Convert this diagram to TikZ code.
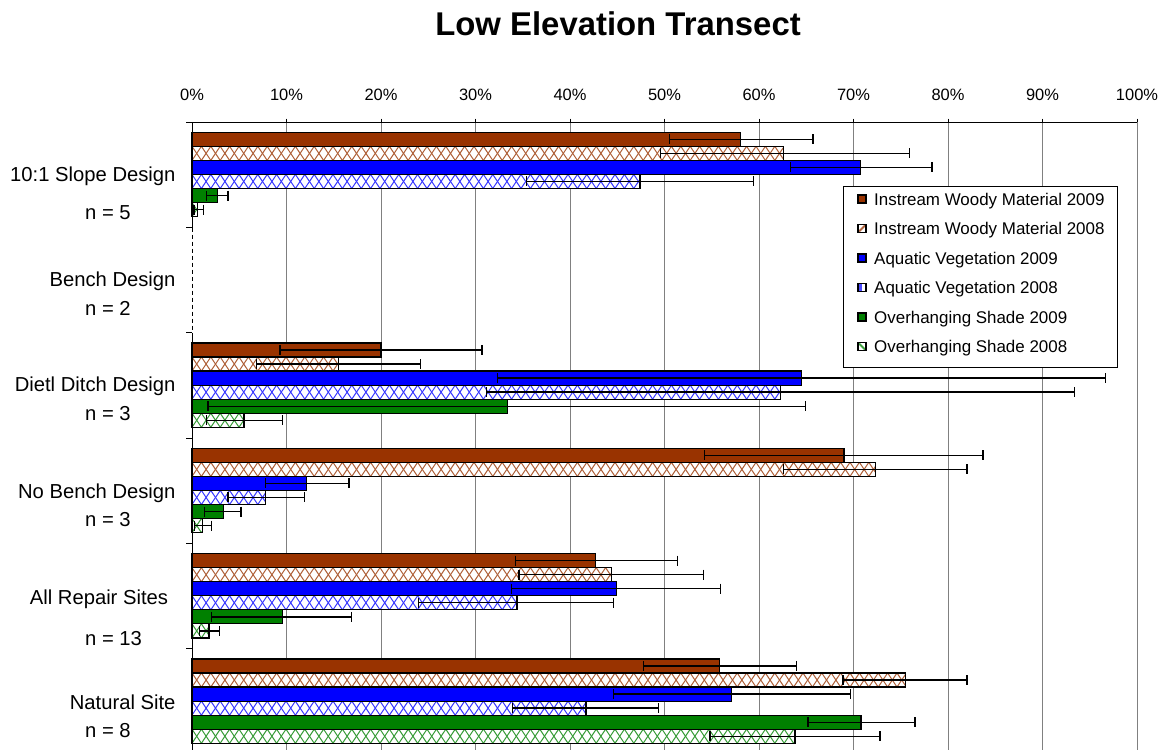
\documentclass[tikz,border=0pt]{standalone}
\usepackage{fontspec}
\setmainfont{Liberation Sans}
\definecolor{iwm}{HTML}{993300}
\definecolor{av}{HTML}{0000FF}
\definecolor{os}{HTML}{008000}
\definecolor{gridgray}{HTML}{808080}
\tikzset{
  barline/.style={draw=black, line width=1.2bp},
  errline/.style={draw=black, line width=1.3bp},
  hatchln/.style={draw=#1!78!white, line width=1bp},
  gridln/.style={draw=gridgray, line width=1bp},
  axisln/.style={draw=black, line width=1bp},
  ticklbl/.style={font=\fontsize{16.5}{18}\selectfont, inner sep=0pt},
  catlbl/.style={font=\fontsize{20.3}{22}\selectfont, inner sep=0pt},
  legtext/.style={font=\fontsize{17}{19}\selectfont, inner sep=0pt},
}
% #1 group, #2 row, #3 value, #4 low, #5 high, #6 colour, #7 hatched (0/1)
\newcommand{\drawbar}[7]{%
  \pgfmathsetmacro{\yt}{132.3+105.33*#1+14.05*#2}%
  \pgfmathsetmacro{\yb}{\yt+14.05}%
  \pgfmathsetmacro{\yc}{\yt+7.025}%
  \pgfmathsetmacro{\xv}{192+9.45*#3}%
  \pgfmathsetmacro{\xl}{192+9.45*#4}%
  \pgfmathsetmacro{\xh}{192+9.45*#5}%
  \ifnum#7=0
    \fill[#6] (192,\yt) rectangle (\xv,\yb);
  \else
    \fill[white] (192,\yt) rectangle (\xv,\yb);
    \begin{scope}
      \clip (192,\yt) rectangle (\xv,\yb);
      \pgfmathtruncatemacro{\nk}{ceil(#3*9.45/9.4)+1}%
      \foreach \k in {-1,...,\nk} {
        \draw[hatchln=#6] ({192+9.4*\k},\yt) -- ({192+9.4*(\k+1)},\yb);
        \draw[hatchln=#6] ({192+9.4*(\k+1)},\yt) -- ({192+9.4*\k},\yb);
      }
    \end{scope}
  \fi
  \draw[barline] (192,\yt) rectangle (\xv,\yb);
  \draw[errline] (\xl,\yc) -- (\xh,\yc);
  \draw[errline] (\xl,\yc-5) -- (\xl,\yc+5);
  \draw[errline] (\xh,\yc-5) -- (\xh,\yc+5);
}
\begin{document}
\begin{tikzpicture}[x=1bp,y=-1bp]
\useasboundingbox (0,0) rectangle (1163,750);
\fill[white] (0,0) rectangle (1163,750);
\clip (0,0) rectangle (1163,750);

% title
\node[font=\bfseries\fontsize{33}{36}\selectfont, anchor=base, inner sep=0pt] (title) at (618,35.5) {Low Elevation Transect};

% tick labels
\foreach \p in {0,10,...,100} {
  \node[ticklbl, anchor=base] (t\p) at ({192+9.45*\p},101) {\p\%};
}

% gridlines and ticks
\foreach \p in {10,20,...,100} {
  \draw[gridln] ({192+9.45*\p},122.3) -- ({192+9.45*\p},750);
  \draw[axisln] ({192+9.45*\p},118.5) -- ({192+9.45*\p},122.3);
}
\draw[axisln] (186,122.3) -- (1137,122.3);
\foreach \k in {1,...,5} {
  \draw[axisln] (186,{122.3+105.33*\k}) -- (192,{122.3+105.33*\k});
}

% 10:1 Slope Design
\drawbar{0}{0}{58.0}{50.5}{65.7}{iwm}{0}
\drawbar{0}{1}{62.6}{49.6}{75.9}{iwm}{1}
\drawbar{0}{2}{70.7}{63.3}{78.3}{av}{0}
\drawbar{0}{3}{47.4}{35.4}{59.4}{av}{1}
\drawbar{0}{4}{2.7}{1.5}{3.8}{os}{0}
\drawbar{0}{5}{0.6}{0.2}{1.2}{os}{1}
% Dietl Ditch Design
\drawbar{2}{0}{20.0}{9.3}{30.7}{iwm}{0}
\drawbar{2}{1}{15.5}{6.8}{24.2}{iwm}{1}
\drawbar{2}{2}{64.5}{32.3}{96.7}{av}{0}
\drawbar{2}{3}{62.3}{31.2}{93.4}{av}{1}
\drawbar{2}{4}{33.4}{1.7}{64.9}{os}{0}
\drawbar{2}{5}{5.5}{1.5}{9.6}{os}{1}
% No Bench Design
\drawbar{3}{0}{69.0}{54.2}{83.7}{iwm}{0}
\drawbar{3}{1}{72.3}{62.6}{82.0}{iwm}{1}
\drawbar{3}{2}{12.1}{7.8}{16.6}{av}{0}
\drawbar{3}{3}{7.8}{3.8}{11.9}{av}{1}
\drawbar{3}{4}{3.3}{1.3}{5.2}{os}{0}
\drawbar{3}{5}{1.1}{0.3}{2.1}{os}{1}
% All Repair Sites
\drawbar{4}{0}{42.7}{34.2}{51.4}{iwm}{0}
\drawbar{4}{1}{44.4}{34.6}{54.1}{iwm}{1}
\drawbar{4}{2}{44.9}{33.8}{55.9}{av}{0}
\drawbar{4}{3}{34.4}{24.0}{44.6}{av}{1}
\drawbar{4}{4}{9.6}{2.1}{16.9}{os}{0}
\drawbar{4}{5}{1.8}{0.8}{2.9}{os}{1}
% Natural Site
\drawbar{5}{0}{55.8}{47.8}{64.0}{iwm}{0}
\drawbar{5}{1}{75.5}{68.9}{82.0}{iwm}{1}
\drawbar{5}{2}{57.1}{44.6}{69.7}{av}{0}
\drawbar{5}{3}{41.7}{33.9}{49.4}{av}{1}
\drawbar{5}{4}{70.8}{65.2}{76.5}{os}{0}
\drawbar{5}{5}{63.8}{54.8}{72.8}{os}{1}

% left axis
\draw[axisln] (192,122.3) -- (192,227.6);
\draw[axisln, dash pattern=on 4bp off 3bp] (192,227.6) -- (192,333);
\draw[axisln] (192,333) -- (192,750);

% category labels
\node[catlbl, anchor=base east] (c1) at (175.7,181.7) {10:1 Slope Design};
\node[catlbl, anchor=base west] (n1) at (85,219) {n = 5};
\node[catlbl, anchor=base east] (c2) at (175.7,286) {Bench Design};
\node[catlbl, anchor=base west] (n2) at (85,315) {n = 2};
\node[catlbl, anchor=base east] (c3) at (175.7,391.7) {Dietl Ditch Design};
\node[catlbl, anchor=base west] (n3) at (85,420.7) {n = 3};
\node[catlbl, anchor=base east] (c4) at (175.7,498.3) {No Bench Design};
\node[catlbl, anchor=base west] (n4) at (85,526) {n = 3};
\node[catlbl, anchor=base east] (c5) at (168.3,604.3) {All Repair Sites};
\node[catlbl, anchor=base west] (n5) at (85,645) {n = 13};
\node[catlbl, anchor=base east] (c6) at (175.7,709) {Natural Site};
\node[catlbl, anchor=base west] (n6) at (85,737.3) {n = 8};

% legend
\node[draw=black, fill=white, line width=0.8bp, minimum width=274bp, minimum height=181bp, inner sep=0pt, anchor=north west] (legend) at (843,186) {};
\foreach \i/\t in {0/Instream Woody Material 2009,
                   1/Instream Woody Material 2008,
                   2/Aquatic Vegetation 2009,
                   3/Aquatic Vegetation 2008,
                   4/Overhanging Shade 2009,
                   5/Overhanging Shade 2008} {
  \pgfmathsetmacro{\ly}{199+29.5*\i}
  \path[fill=white] (858,\ly-4) rectangle (866,\ly+4);
  \ifnum\i=0 \fill[iwm] (858,\ly-4) rectangle (866,\ly+4); \fi
  \ifnum\i=2 \fill[av] (858,\ly-4) rectangle (866,\ly+4); \fi
  \ifnum\i=4 \fill[os] (858,\ly-4) rectangle (866,\ly+4); \fi
  \ifnum\i=1 \draw[iwm!75!white, line width=1.8bp] (859,\ly+3) -- (865,\ly-3); \fi
  \ifnum\i=3 \fill[av!70!white] (858,\ly-4) rectangle (862,\ly+4); \fi
  \ifnum\i=5 \draw[os!75!white, line width=1.8bp] (859,\ly-3) -- (865,\ly+3); \fi
  \draw[black, line width=1.1bp] (858,\ly-4) rectangle (866,\ly+4);
  \node[legtext, anchor=base west] (l\i) at (874,\ly+6.2) {\t};
}
\end{tikzpicture}
\end{document}
